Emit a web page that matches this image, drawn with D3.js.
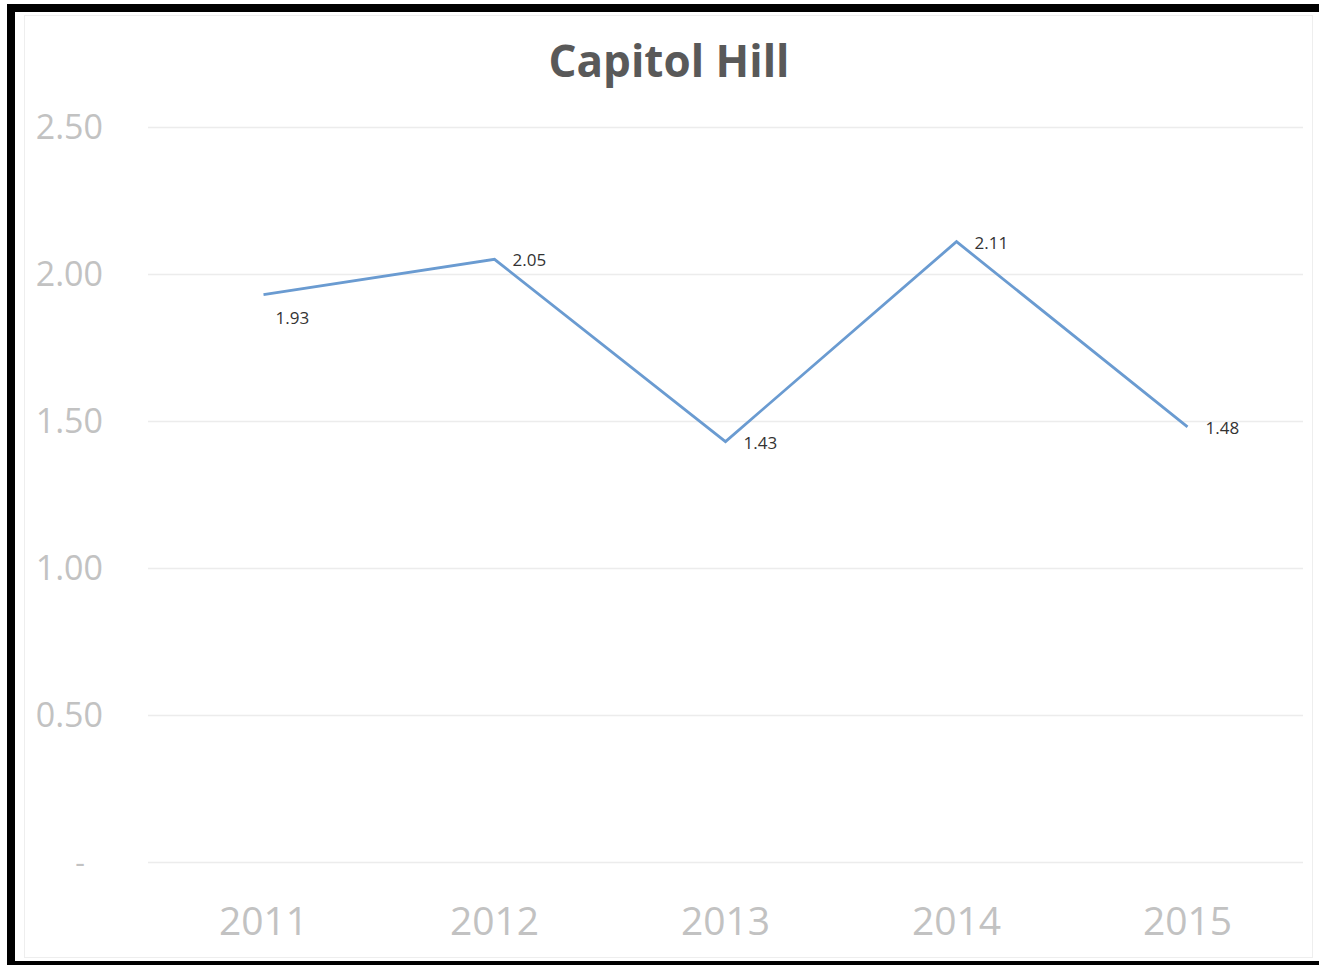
<!DOCTYPE html>
<html>
<head>
<meta charset="utf-8">
<script src="https://cdn.jsdelivr.net/npm/d3@7/dist/d3.min.js"></script>
<style>
  html, body { margin: 0; padding: 0; background: #ffffff; }
  svg { display: block; }
</style>
</head>
<body>
<svg id="chart" width="1319" height="965"></svg>
<script>
// Capitol Hill yearly values
const years = ["2011", "2012", "2013", "2014", "2015"];
const values = [1.93, 2.05, 1.43, 2.11, 1.48];
const yTicks = [0, 0.5, 1.0, 1.5, 2.0, 2.5];
const yTickLabels = ["-", "0.50", "1.00", "1.50", "2.00", "2.50"];
const chartTitle = "Capitol Hill";

// label placement for each data point (Excel-style)
const labelPlacement = ["below", "right", "right", "right", "right"];

const W = 1319, H = 965;
const margin = { left: 148, right: 16, top: 127, bottom: 103 };

const svg = d3.select("#chart");

// frame: heavy black strokes on top, left and bottom edges
svg.append("rect").attr("x", 0).attr("y", 0).attr("width", W).attr("height", H).attr("fill", "#ffffff");
svg.append("rect").attr("x", 7).attr("y", 4).attr("width", W - 7).attr("height", 8).attr("fill", "#000");
svg.append("rect").attr("x", 7).attr("y", 4).attr("width", 8).attr("height", H - 4).attr("fill", "#000");
svg.append("rect").attr("x", 7).attr("y", 961).attr("width", W - 7).attr("height", 4).attr("fill", "#000");

// faint chart-area outline
svg.append("rect")
  .attr("x", 24.5).attr("y", 15.5).attr("width", 1288).attr("height", 942)
  .attr("fill", "none").attr("stroke", "#eeeeee").attr("stroke-width", 1);

const x = d3.scaleBand()
  .domain(years)
  .range([margin.left, W - margin.right])
  .padding(0);

const y = d3.scaleLinear()
  .domain([0, 2.5])
  .range([862, 127]);

const font = "'Open Sans', 'Liberation Sans', sans-serif";

// horizontal gridlines
const yAxis = d3.axisLeft(y)
  .tickValues(yTicks)
  .tickSize(-(W - margin.right - margin.left))
  .tickFormat((d, i) => yTickLabels[i]);

const gy = svg.append("g")
  .attr("transform", `translate(${margin.left},0)`)
  .call(yAxis);
gy.select(".domain").remove();
gy.selectAll(".tick line")
  .attr("stroke", "#ececec")
  .attr("stroke-width", 1.5);
gy.selectAll(".tick text")
  .attr("x", -45)
  .attr("dy", "0.34em")
  .attr("fill", "#c2c2c2")
  .style("font-family", font)
  .style("font-size", "34px")
  .attr("text-anchor", "end");
// zero label sits further in, as Excel's accounting dash
gy.selectAll(".tick text").filter(d => d === 0)
  .attr("x", -63)
  .style("font-size", "30px");

// category axis
const xAxis = d3.axisBottom(x).tickSize(0).tickPadding(0);
const gx = svg.append("g")
  .attr("transform", `translate(0,${y(0)})`)
  .call(xAxis);
gx.select(".domain").remove();
gx.selectAll(".tick text")
  .attr("y", 60)
  .attr("dy", "0.34em")
  .attr("fill", "#c2c2c2")
  .style("font-family", font)
  .style("font-size", "39px");

// title
svg.append("text")
  .attr("x", 669)
  .attr("y", 62)
  .attr("dy", "0.35em")
  .attr("text-anchor", "middle")
  .attr("fill", "#595959")
  .style("font-family", font)
  .style("font-weight", "bold")
  .style("font-size", "44px")
  .text(chartTitle);

// series line
const cx = d => x(d.year) + x.bandwidth() / 2;
const data = years.map((yr, i) => ({ year: yr, value: values[i], place: labelPlacement[i] }));

const line = d3.line()
  .x(cx)
  .y(d => y(d.value));

svg.append("path")
  .datum(data)
  .attr("d", line)
  .attr("fill", "none")
  .attr("stroke", "#6a9bd1")
  .attr("stroke-width", 2.8)
  .attr("stroke-linejoin", "miter");

// data labels
svg.append("g").selectAll("text")
  .data(data)
  .join("text")
  .attr("x", d => d.place === "below" ? cx(d) + 12 : cx(d) + 18)
  .attr("y", d => d.place === "below" ? y(d.value) + 23 : y(d.value) + 1)
  .attr("dy", "0.35em")
  .attr("fill", "#333333")
  .style("font-family", font)
  .style("font-size", "17px")
  .text(d => d.value.toFixed(2));
</script>
</body>
</html>
